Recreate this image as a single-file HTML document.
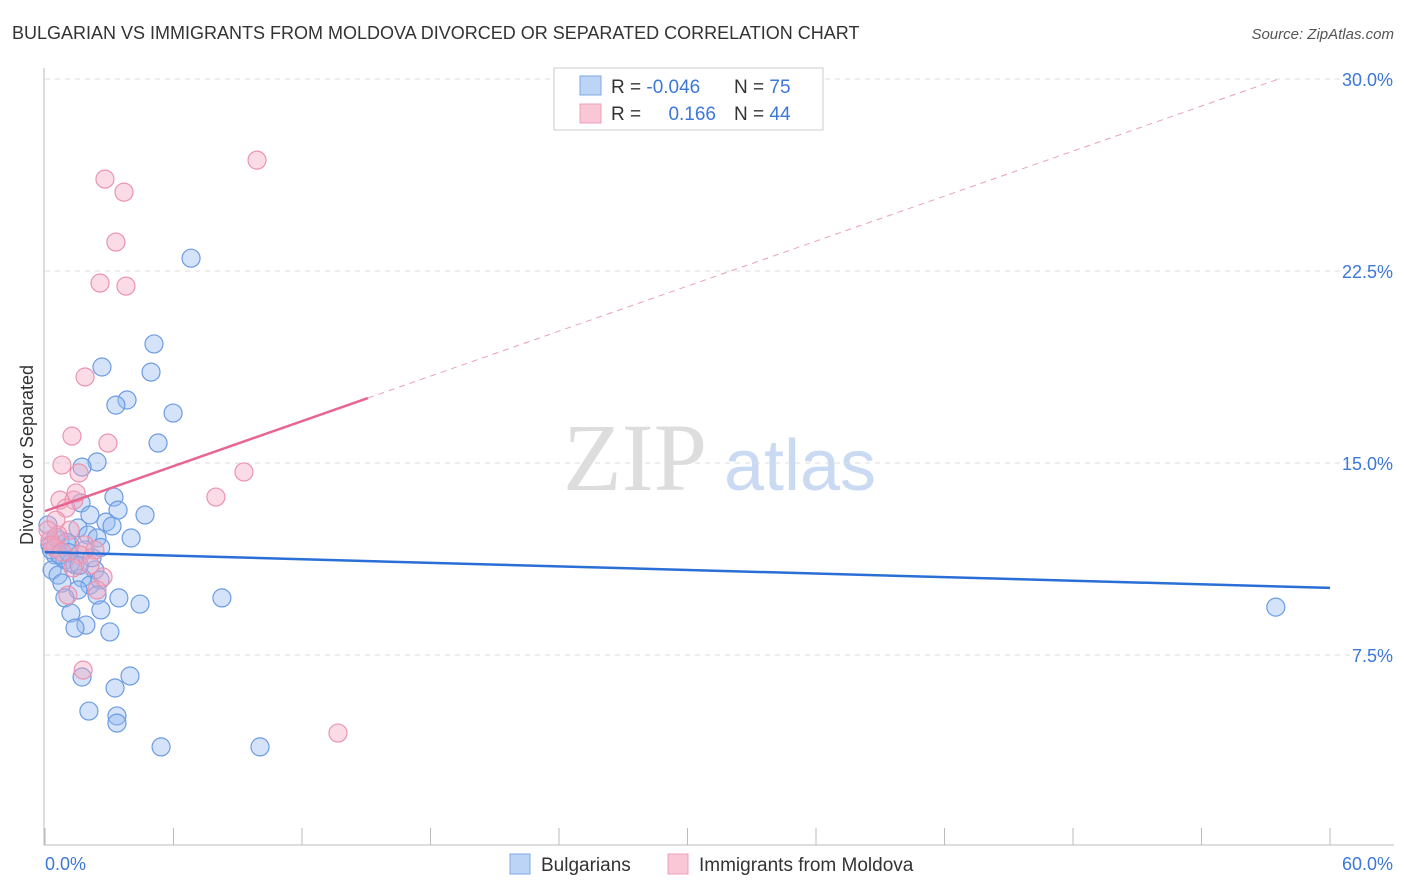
<!DOCTYPE html>
<html><head><meta charset="utf-8"><style>
body{margin:0;background:#fff;font-family:"Liberation Sans",sans-serif;}
svg{display:block}
</style></head><body>
<svg id="chart" width="1406" height="892">
<text x="12" y="39" font-size="18" fill="#333">BULGARIAN VS IMMIGRANTS FROM MOLDOVA DIVORCED OR SEPARATED CORRELATION CHART</text>
<text x="1394" y="39" font-size="15" fill="#555" text-anchor="end" font-style="italic">Source: ZipAtlas.com</text>
<text transform="translate(33,455) rotate(-90)" font-size="18" fill="#333" text-anchor="middle">Divorced or Separated</text>
<g><text x="635" y="490" font-size="96" fill="#ddd" text-anchor="middle" font-family="Liberation Serif,serif">ZIP</text><text x="800" y="490" font-size="72" fill="#c9daf2" text-anchor="middle">atlas</text></g>
<g id="grid"></g><g id="axes"></g><g id="pts"></g><g id="lines"></g>
<g>
<rect x="554" y="68" width="269" height="62" fill="#fff" stroke="#ccc"/>
<rect x="580" y="76" width="21" height="19" fill="#bcd4f6" stroke="#7fa8e6"/>
<rect x="580" y="104" width="21" height="19" fill="#f9c7d6" stroke="#eda0b8"/>
<text x="611" y="93" font-size="19" fill="#333">R = <tspan fill="#3b78d8">-0.046</tspan></text>
<text x="734" y="93" font-size="19" fill="#333">N = <tspan fill="#3b78d8">75</tspan></text>
<text x="611" y="120" font-size="19" fill="#333">R = </text>
<text x="716" y="120" font-size="19" fill="#3b78d8" text-anchor="end">0.166</text>
<text x="734" y="120" font-size="19" fill="#333">N = <tspan fill="#3b78d8">44</tspan></text>
</g>
<g>
<rect x="510" y="854" width="20" height="20" fill="#bcd4f6" stroke="#7fa8e6"/>
<text x="541" y="871" font-size="19" fill="#333">Bulgarians</text>
<rect x="668" y="854" width="20" height="20" fill="#f9c7d6" stroke="#eda0b8"/>
<text x="699" y="871" font-size="19" fill="#333">Immigrants from Moldova</text>
</g>
</svg>
<script>
const xTicks=[0,6,12,18,24,30,36,42,48,54,60];
const yTicks=[7.5,15,22.5,30];
const yTickLabels=["7.5%","15.0%","22.5%","30.0%"];
const blueX=[6.82,5.09,4.95,2.66,3.83,3.31,5.98,5.28,2.43,1.73,3.22,1.68,4.67,3.41,2.10,2.85,3.13,1.54,2.01,2.43,4.02,0.70,1.17,0.47,1.87,0.93,1.40,0.33,0.61,2.33,1.73,2.10,0.79,1.54,2.57,2.43,0.93,3.45,4.44,8.26,2.61,1.21,1.91,1.40,3.03,1.73,3.97,3.27,2.05,3.36,3.36,5.42,10.04,57.47,0.14,0.23,0.3,0.7,1.0,1.2,1.6,2.2,2.6,0.5,1.1];
const blueY=[23.0,19.65,18.55,18.75,17.46,17.26,16.95,15.78,15.04,14.84,13.67,13.44,12.97,13.16,12.97,12.69,12.54,12.46,12.19,12.07,12.07,11.99,11.80,11.41,11.60,11.21,11.02,10.82,10.62,10.82,10.51,10.23,10.31,10.04,10.43,9.84,9.73,9.73,9.49,9.73,9.26,9.14,8.67,8.55,8.40,6.64,6.68,6.21,5.31,5.12,4.84,3.91,3.91,9.37,12.58,11.80,11.6,11.4,11.9,11.1,11.0,11.3,11.7,12.1,11.5];
const pinkX=[9.90,2.80,3.69,3.31,2.57,3.78,1.87,1.26,2.94,0.79,9.29,1.59,7.98,0.70,1.35,1.45,0.98,0.51,1.17,0.61,1.87,2.33,1.63,0.23,0.47,2.10,2.71,2.43,1.07,1.78,13.68,0.14,0.33,0.79,1.31];
const pinkY=[26.83,26.09,25.58,23.63,22.03,21.91,18.36,16.05,15.78,14.92,14.65,14.61,13.67,13.55,13.55,13.83,13.24,12.77,12.38,12.19,11.80,11.60,11.41,11.99,11.68,11.02,10.55,10.04,9.84,6.91,4.45,12.38,11.80,11.52,10.90];
const blueTrend=[11.52,-0.0233];
const pinkTrend=[13.12,0.293];
const pinkSolidEnd=15.08;
const NS='http://www.w3.org/2000/svg';
const X=v=>45+v/60*1285, Y=v=>847-v/7.5*192;
function mk(parent,tag,attrs){const e=document.createElementNS(NS,tag);for(const k in attrs)e.setAttribute(k,attrs[k]);document.getElementById(parent).appendChild(e);return e;}
yTicks.forEach((t,i)=>{
 const g=mk('grid','line',{x1:45,x2:1394,y1:Y(t),y2:Y(t),stroke:'#ddd','stroke-dasharray':'5,5'});
 
 
 const l=mk('axes','text',{x:1393,y:Y(t)+7,'font-size':18,fill:'#3b78d8','text-anchor':'end'});
 l.textContent=yTickLabels[i];
 
 
});
const ax=mk('axes','line',{x1:44,x2:44,y1:68,y2:845,stroke:'#bbb'});


const bx=mk('axes','line',{x1:44,x2:1394,y1:845,y2:845,stroke:'#bbb'});


xTicks.forEach(t=>{
 const k=mk('axes','line',{x1:X(t),x2:X(t),y1:828,y2:845,stroke:'#bbb'});
 
 
});
const x0=mk('axes','text',{x:45,y:870,'font-size':18,fill:'#3b78d8'});x0.textContent='0.0%';


const x1=mk('axes','text',{x:1393,y:870,'font-size':18,fill:'#3b78d8','text-anchor':'end'});x1.textContent='60.0%';


blueX.forEach((v,i)=>{
 const c=mk('pts','circle',{cx:X(v),cy:Y(blueY[i]),r:9,fill:'rgba(147,186,240,0.4)',stroke:'#6b9be3','stroke-width':1.2});
 
 
});
pinkX.forEach((v,i)=>{
 const c=mk('pts','circle',{cx:X(v),cy:Y(pinkY[i]),r:9,fill:'rgba(244,167,192,0.4)',stroke:'#eb93b0','stroke-width':1.2});
 
 
});
const bl=mk('lines','line',{x1:X(0),y1:Y(blueTrend[0]),x2:X(60),y2:Y(blueTrend[0]+blueTrend[1]*60),stroke:'#2a6fd6','stroke-width':2.5});


const pEnd=(30-pinkTrend[0])/pinkTrend[1]*1.0;
const pd=mk('lines','line',{x1:X(pinkSolidEnd),y1:Y(pinkTrend[0]+pinkTrend[1]*pinkSolidEnd),x2:X(pEnd),y2:Y(30),stroke:'#eaa0b8','stroke-width':1,'stroke-dasharray':'6,5'});


const pl=mk('lines','line',{x1:X(0),y1:Y(pinkTrend[0]),x2:X(pinkSolidEnd),y2:Y(pinkTrend[0]+pinkTrend[1]*pinkSolidEnd),stroke:'#e8658f','stroke-width':2.5});


</script>
</body></html>
